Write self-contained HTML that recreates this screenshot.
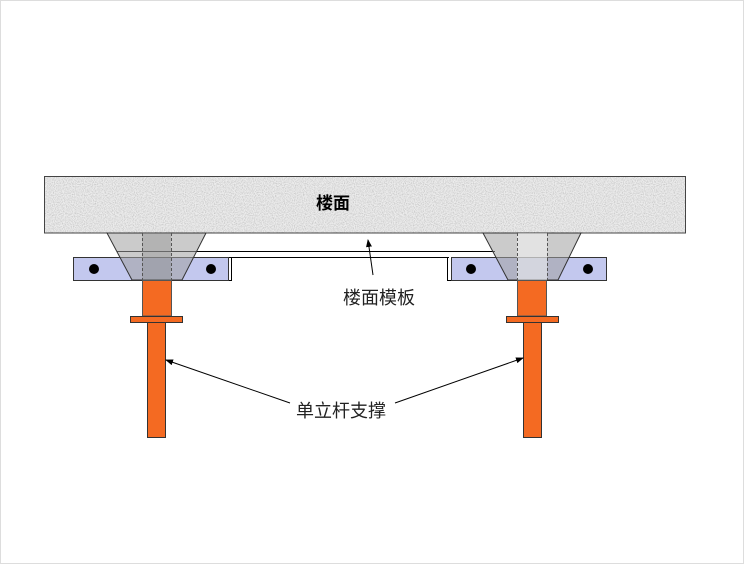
<!DOCTYPE html>
<html><head><meta charset="utf-8"><style>
html,body{margin:0;padding:0;background:#fff;}
svg{display:block;}
</style></head><body>
<svg width="744" height="564" viewBox="0 0 744 564" xmlns="http://www.w3.org/2000/svg">
<defs>
<filter id="n" x="0" y="0" width="100%" height="100%">
<feTurbulence type="fractalNoise" baseFrequency="0.9" numOctaves="2" seed="3" result="t"/>
<feColorMatrix type="matrix" values="0 0 0 0 0.55  0 0 0 0 0.55  0 0 0 0 0.55  0 0 0 -2.2 1.35" in="t" result="c"/>
<feComposite in="c" in2="SourceGraphic" operator="in"/>
</filter>
<marker id="a" markerWidth="8" markerHeight="8" refX="7" refY="4" orient="auto" markerUnits="userSpaceOnUse">
<path d="M0,1 L8,4 L0,7 z" fill="#000"/></marker>
</defs>
<rect x="0.5" y="0.5" width="743" height="563" fill="#fff" stroke="#ddd"/>
<!-- slab -->
<rect x="44" y="176" width="642" height="57" fill="#ececec"/>
<rect x="44" y="176" width="642" height="57" fill="#ececec" filter="url(#n)"/>
<rect x="44.5" y="176.5" width="641" height="56.5" fill="none" stroke="#444" stroke-width="1"/>
<text x="333" y="209" font-family="Liberation Sans, Noto Sans CJK SC, sans-serif" font-size="17" font-weight="bold" text-anchor="middle">楼面</text>
<!-- board -->
<line x1="117" y1="251.5" x2="495" y2="251.5" stroke="#000"/>
<line x1="229" y1="257.5" x2="449" y2="257.5" stroke="#000"/>
<line x1="231.5" y1="257" x2="231.5" y2="280" stroke="#000"/>
<line x1="447.5" y1="257" x2="447.5" y2="280" stroke="#000"/>
<line x1="229" y1="280.5" x2="232" y2="280.5" stroke="#000"/>
<line x1="447" y1="280.5" x2="451" y2="280.5" stroke="#000"/>
<!-- left support -->
<rect x="73.5" y="257.5" width="155" height="23" fill="#c3c8ee" stroke="#333"/>
<polygon points="107,233 206,233 182,280 132,280" fill="#a0a0a0" fill-opacity="0.55" stroke="#333"/>
<rect x="142" y="233" width="29" height="47" fill="#888" fill-opacity="0.35"/>
<line x1="142.5" y1="233" x2="142.5" y2="280" stroke="#555" stroke-dasharray="3,2"/>
<line x1="171.5" y1="233" x2="171.5" y2="280" stroke="#555" stroke-dasharray="3,2"/>
<circle cx="94" cy="269" r="5" fill="#000"/>
<circle cx="211" cy="269" r="5" fill="#000"/>
<rect x="142.5" y="280.5" width="29" height="35.5" fill="#f46a22" stroke="#555"/>
<rect x="130.5" y="316.5" width="52" height="6" fill="#f46a22" stroke="#333"/>
<rect x="147.5" y="322.5" width="18" height="115" fill="#f46a22" stroke="#333"/>
<!-- right support -->
<rect x="451.5" y="257.5" width="155" height="23" fill="#c3c8ee" stroke="#333"/>
<polygon points="483,233 581,233 558,280 508,280" fill="#a0a0a0" fill-opacity="0.55" stroke="#333"/>
<rect x="517" y="233" width="30" height="47" fill="#fff" fill-opacity="0.45"/>
<line x1="517.5" y1="233" x2="517.5" y2="280" stroke="#555" stroke-dasharray="3,2"/>
<line x1="547.5" y1="233" x2="547.5" y2="280" stroke="#555" stroke-dasharray="3,2"/>
<circle cx="471" cy="269" r="5" fill="#000"/>
<circle cx="588" cy="269" r="5" fill="#000"/>
<rect x="517.5" y="280.5" width="29" height="35.5" fill="#f46a22" stroke="#555"/>
<rect x="506.5" y="316.5" width="52" height="6" fill="#f46a22" stroke="#333"/>
<rect x="523.5" y="322.5" width="18" height="115" fill="#f46a22" stroke="#333"/>
<!-- labels -->
<line x1="373" y1="275" x2="368" y2="240" stroke="#000" marker-end="url(#a)"/>
<text x="379" y="304" font-family="Liberation Sans, Noto Sans CJK SC, sans-serif" font-size="18" fill="#222" text-anchor="middle">楼面模板</text>
<line x1="290" y1="403" x2="166" y2="360" stroke="#000" marker-end="url(#a)"/>
<line x1="395" y1="403" x2="523" y2="358" stroke="#000" marker-end="url(#a)"/>
<text x="341" y="417" font-family="Liberation Sans, Noto Sans CJK SC, sans-serif" font-size="18" fill="#222" text-anchor="middle">单立杆支撑</text>
</svg>
</body></html>
